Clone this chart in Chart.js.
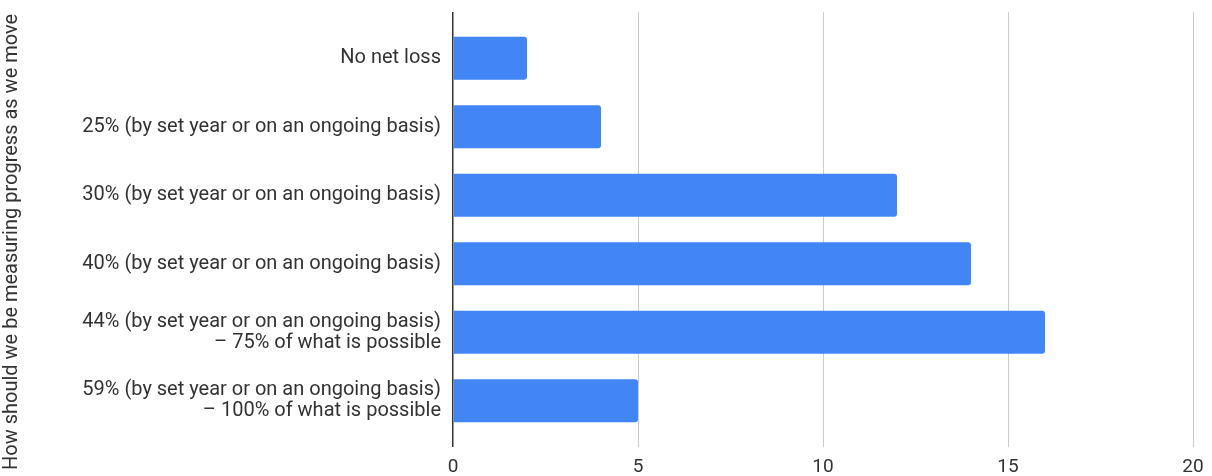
<!DOCTYPE html>
<html>
<head>
<meta charset="utf-8">
<script src="https://cdn.jsdelivr.net/npm/chart.js@4/dist/chart.umd.min.js"></script>
<style>
html,body{margin:0;padding:0;background:#fff;}
#wrap{width:1212px;height:476px;position:relative;}
</style>
</head>
<body>
<div id="wrap"><canvas id="c"></canvas></div>
<script>
const categories = [
  "No net loss",
  "25% (by set year or on an ongoing basis)",
  "30% (by set year or on an ongoing basis)",
  "40% (by set year or on an ongoing basis)",
  ["44% (by set year or on an ongoing basis)", "– 75% of what is possible"],
  ["59% (by set year or on an ongoing basis)", "– 100% of what is possible"]
];
const values = [2, 4, 12, 14, 16, 5];
const xMin = 0, xMax = 20, xStep = 5;
const axisTitle = "How should we be measuring progress as we move";

const FONT = "Roboto, 'Liberation Sans', Arial, sans-serif";
Chart.defaults.font.family = FONT;

const gridColor = ctx => (ctx.tick && ctx.tick.value === 0) ? '#333' : '#ccc';
const gridWidth = ctx => (ctx.tick && ctx.tick.value === 0) ? 1.5 : 1;

new Chart(document.getElementById('c'), {
  type: 'bar',
  data: {
    labels: categories,
    datasets: [{
      data: values,
      backgroundColor: '#4285F4',
      borderRadius: 3,
      categoryPercentage: 1,
      barPercentage: 0.63
    }]
  },
  options: {
    indexAxis: 'y',
    responsive: true,
    maintainAspectRatio: false,
    animation: false,
    layout: { padding: { top: 12, right: 19, left: 0, bottom: 0 } },
    plugins: { legend: { display: false }, tooltip: { enabled: false } },
    scales: {
      x: {
        position: 'bottom',
        min: xMin, max: xMax,
        ticks: { stepSize: xStep, color: '#333', font: { size: 19, lineHeight: 1 }, padding: 11 },
        grid: { color: gridColor, lineWidth: gridWidth, tickLength: 12, drawTicks: true },
        border: { display: false },
        afterFit: s => { s.height = 41; s.paddingRight = 0; }
      },
      x2: {
        position: 'top',
        min: xMin, max: xMax,
        ticks: { stepSize: xStep, display: false },
        grid: { color: gridColor, lineWidth: gridWidth, tickLength: 12, drawTicks: true, drawOnChartArea: false },
        border: { display: false },
        afterFit: s => { s.paddingRight = 0; }
      },
      y: {
        ticks: { color: '#333', font: { size: 20, lineHeight: 1.05 }, padding: 12 },
        grid: { display: false, drawTicks: false },
        border: { display: false },
        title: { display: true, text: axisTitle + '\u00a0\u00a0\u00a0\u00a0\u00a0', color: '#333', font: { size: 20 }, padding: { top: 0, bottom: 0 } },
        afterFit: s => { s.width = 453; s.paddingTop = 0; s.paddingBottom = 0; }
      }
    }
  }
});
</script>
</body>
</html>
